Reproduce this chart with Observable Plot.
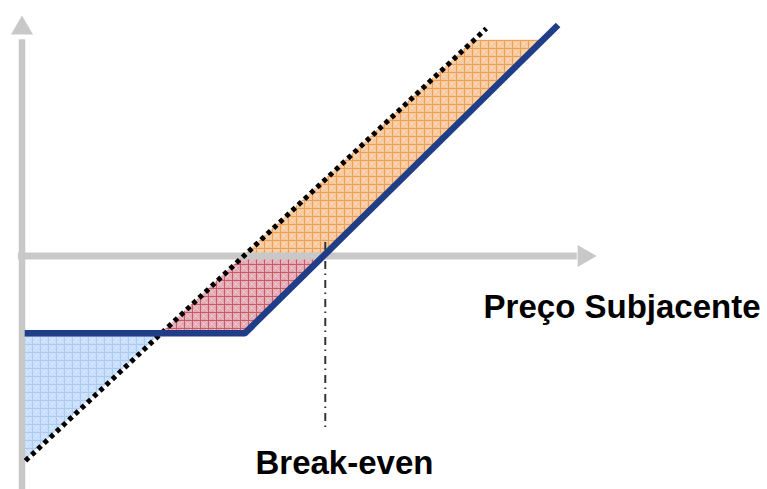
<!DOCTYPE html>
<html>
<head>
<meta charset="utf-8">
<script src="https://cdn.jsdelivr.net/npm/d3@7"></script>
<script src="https://cdn.jsdelivr.net/npm/@observablehq/plot@0.6"></script>
<style>
  html, body { margin: 0; padding: 0; background: #fff; }
  #chart { width: 767px; height: 489px; }
</style>
</head>
<body>
<div id="chart"></div>
<script>
// Payoff lines (price units, payoff units)
const optionX = [0.6, 50, 120.2];          // call payoff (flat premium, then rising)
const optionY = [-17.3, -17.3, 51.8];
const underlyingX = [0.78, 104.1];          // underlying position (dotted)
const underlyingY = [-45.9, 51.0];
const breakEven = 68;

// Shaded regions between the two payoffs
const blueX = [0, 31.3];
const blueLow = [-46.6, -17.3];
const blueHigh = [-17.3, -17.3];

const redX = [31.3, 49.7, 50, 67.6];
const redLow = [-17.3, -17.3, -17.3, 0];
const redHigh = [-17.3, 0, 0, 0];

const orangeX = [49.7, 67.6, 101.3, 116.8];
const orangeLow = [0, 0, 33.2, 48.4];
const orangeHigh = [0, 16.8, 48.4, 48.4];

// Labels
const labelText = ["Preço Subjacente", "Break-even"];
const labelX = [103.5, 52.35];
const labelY = [-11.64, -46.6];

const toPts = (xs, ys) => xs.map((x, i) => ({x, y: ys[i]}));
const toBand = (xs, lo, hi) => xs.map((x, i) => ({x, y1: lo[i], y2: hi[i]}));
const labels = labelText.map((t, i) => ({t, x: labelX[i], y: labelY[i]}));

const S = 4.46, X0 = 21.5, Y0 = 255.5;
const axisGray = "#c8c8c8";

const svg = Plot.plot({
  width: 767,
  height: 489,
  margin: 0,
  style: {background: "#fff", overflow: "visible"},
  x: {domain: [0, 130], range: [X0, X0 + 130 * S], axis: null},
  y: {domain: [-50, 50], range: [Y0 + 50 * S, Y0 - 50 * S], axis: null},
  marks: [
    Plot.areaY(toBand(blueX, blueLow, blueHigh), {x: "x", y1: "y1", y2: "y2", fill: "url(#pat-blue)"}),
    Plot.areaY(toBand(redX, redLow, redHigh), {x: "x", y1: "y1", y2: "y2", fill: "url(#pat-red)"}),
    Plot.areaY(toBand(orangeX, orangeLow, orangeHigh), {x: "x", y1: "y1", y2: "y2", fill: "url(#pat-orange)"}),
    Plot.ruleX([0], {y1: -53, y2: 48.5, stroke: axisGray, strokeWidth: 6.5}),
    Plot.ruleY([0], {x1: -0.8, x2: 124.5, stroke: axisGray, strokeWidth: 7}),
    Plot.dot([{x: 0, y: 51.08}], {x: "x", y: "y", symbol: "triangle", r: 8.17, fill: axisGray, stroke: "none"}),
    Plot.dot([{x: 126.0, y: 0}], {x: "x", y: "y", symbol: "triangle", r: 8.17, rotate: 90, fill: axisGray, stroke: "none"}),
    Plot.ruleX([breakEven], {y1: 3, y2: -38.8, stroke: "#333", strokeWidth: 2, strokeDasharray: "8 4.5 1.5 5"}),
    Plot.line(toPts(underlyingX, underlyingY), {x: "x", y: "y", stroke: "#000", strokeWidth: 5, strokeDasharray: "4.5 4", strokeLinecap: "butt"}),
    Plot.line(toPts(optionX, optionY), {x: "x", y: "y", stroke: "#1f3e87", strokeWidth: 6.5, strokeLinejoin: "miter", strokeLinecap: "butt"}),
    Plot.text(labels, {x: "x", y: "y", text: "t", textAnchor: "start", lineAnchor: "middle",
      fontSize: 33, fontWeight: "bold", fontFamily: "'Liberation Sans', Arial, sans-serif", fill: "#000"})
  ]
});

const pattern = (id, bg, line, diag) => `
  <pattern id="${id}" patternUnits="userSpaceOnUse" width="8" height="8">
    <rect width="8" height="8" fill="${bg}"/>
    <path d="M1,1L7,7M7,1L1,7" stroke="${diag}" stroke-width="0.8" fill="none"/>
    <path d="M0,0.5H8M0.5,0V8" stroke="${line}" stroke-width="1" fill="none"/>
  </pattern>`;
svg.insertAdjacentHTML("afterbegin", `<defs>
  ${pattern("pat-blue", "#c9defa", "#a8cbf3", "#dceafc")}
  ${pattern("pat-red", "#e3aab3", "#c65a67", "#eecdd2")}
  ${pattern("pat-orange", "#f7c899", "#ee9d58", "#fadcbf")}
</defs>`);

document.getElementById("chart").appendChild(svg);
</script>
</body>
</html>
